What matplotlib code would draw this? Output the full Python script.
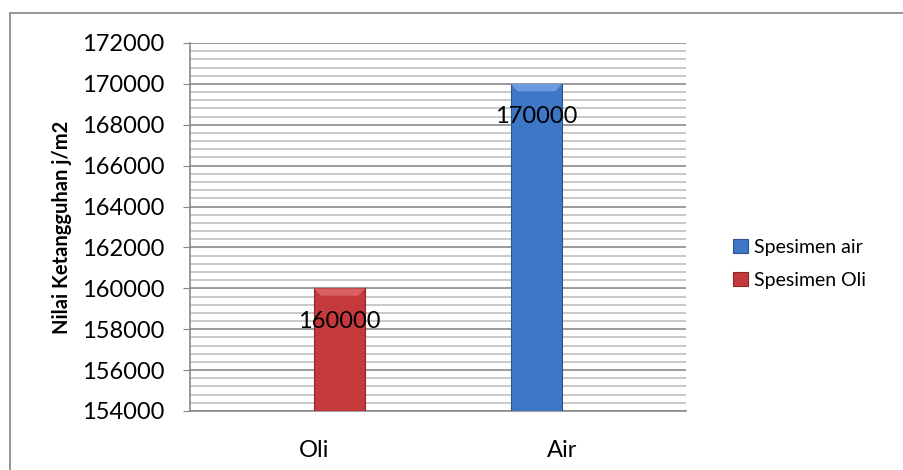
import numpy as np
import matplotlib.pyplot as plt
from matplotlib.patches import Rectangle, Polygon
from matplotlib.ticker import MultipleLocator

# Nilai ketangguhan per media pendingin
kategori = ["Oli", "Air"]
nilai_air = [np.nan, 170000]
nilai_oli = [160000, np.nan]
label_seri = ["Spesimen air", "Spesimen Oli"]

y_min, y_max = 154000, 172000

plt.rcParams['font.family'] = ['Lato', 'DejaVu Sans']

fig = plt.figure(figsize=(9.04, 4.70), dpi=100)
ax = fig.add_axes([190/904, 1 - 411/470, 496/904, 368/470])

# bingkai luar grafik
fig.patches.append(Rectangle((10/904, -0.05), 1.0, 1 - 13/470 + 0.05,
                             transform=fig.transFigure, fill=False,
                             edgecolor='#8c8c8c', linewidth=1.3))

x = np.arange(len(kategori))
lebar = 0.206

warna_air = '#3d77c6'
warna_oli = '#c43a3c'

b_air = ax.bar(x - lebar / 2, np.array(nilai_air) - y_min, lebar, bottom=y_min,
               color=warna_air, edgecolor='#2a5590', linewidth=0.8,
               label=label_seri[0], zorder=3)
b_oli = ax.bar(x + lebar / 2, np.array(nilai_oli) - y_min, lebar, bottom=y_min,
               color=warna_oli, edgecolor='#8e2526', linewidth=0.8,
               label=label_seri[1], zorder=3)

# efek bevel di atas batang
for bars, terang in [(b_air, '#6a9be0'), (b_oli, '#d9605f')]:
    for p in bars:
        if not np.isfinite(p.get_height()):
            continue
        x0, w = p.get_x(), p.get_width()
        y1 = p.get_y() + p.get_height()
        dx, dy = w * 0.13, (y_max - y_min) * 0.02
        ax.add_patch(Polygon([(x0, y1), (x0 + w, y1), (x0 + w - dx, y1 - dy),
                              (x0 + dx, y1 - dy)], closed=True,
                             facecolor=terang, edgecolor='none', zorder=3.5))

# label nilai di dalam batang
for xi, v in zip(x - lebar / 2, nilai_air):
    if not np.isnan(v):
        ax.text(xi, v - 1600, f"{v:.0f}", ha='center', va='center',
                fontsize=17, color='black', zorder=4)
for xi, v in zip(x + lebar / 2, nilai_oli):
    if not np.isnan(v):
        ax.text(xi, v - 1600, f"{v:.0f}", ha='center', va='center',
                fontsize=17, color='black', zorder=4)

ax.set_xlim(-0.5, 1.5)
ax.set_ylim(y_min, y_max)
ax.set_xticks(x)
ax.set_xticklabels(kategori)
ax.yaxis.set_major_locator(MultipleLocator(2000))
ax.yaxis.set_minor_locator(MultipleLocator(400))
ax.tick_params(axis='y', which='major', length=5, color='#868686',
               labelsize=17, pad=13.5)
ax.tick_params(axis='y', which='minor', length=0)
ax.tick_params(axis='x', length=0, labelsize=17, pad=21)

ax.grid(axis='y', which='major', color='#8a8a8a', linewidth=1.2, zorder=0)
ax.grid(axis='y', which='minor', color='#c0c0c0', linewidth=1.2, zorder=0)
ax.set_axisbelow(True)

for s in ['top', 'right']:
    ax.spines[s].set_visible(False)
ax.spines['left'].set_color('#8a8a8a')
ax.spines['bottom'].set_color('#8a8a8a')
ax.spines['left'].set_linewidth(1.2)
ax.spines['bottom'].set_linewidth(1.2)

ax.yaxis.set_label_coords(-0.238, 0.514)
ax.set_ylabel("Nilai Ketangguhan j/m2", fontsize=14.5, fontweight='bold')

ax.legend(loc='center left', bbox_to_anchor=(1.06, 0.40), frameon=False,
          fontsize=14, handlelength=0.75, handleheight=0.75, handletextpad=0.3,
          labelspacing=0.85)

fig.savefig("out.png", dpi=100)
